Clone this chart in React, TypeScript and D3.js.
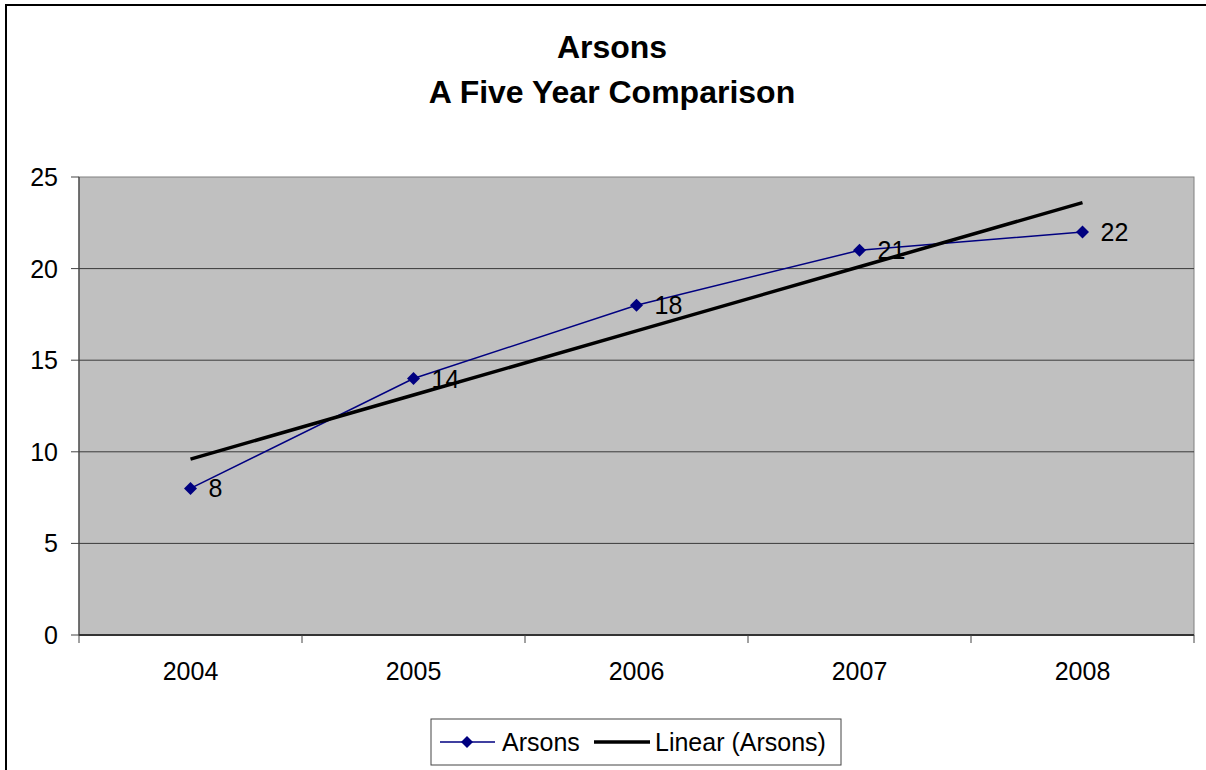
import React from "react";
import * as d3 from "d3";

const years = ["2004", "2005", "2006", "2007", "2008"];
const arsons = [8, 14, 18, 21, 22];
const yTicks = [0, 5, 10, 15, 20, 25];
const titleLines = ["Arsons", "A Five Year Comparison"];

const W = 1206, H = 770;
const left = 79, right = 1194, top = 177, bottom = 635;

export default function App() {
  const x = d3.scaleBand<string>().domain(years).range([left, right]);
  const y = d3.scaleLinear().domain([0, 25]).range([bottom, top]);
  const cx = (d: string) => (x(d) as number) + x.bandwidth() / 2;

  // linear regression trend
  const n = arsons.length;
  const xs = arsons.map((_, i) => i + 1);
  const mx = d3.mean(xs) as number;
  const my = d3.mean(arsons) as number;
  const slope = d3.sum(xs.map((xi, i) => (xi - mx) * (arsons[i] - my))) / d3.sum(xs.map((xi) => (xi - mx) ** 2));
  const icpt = my - slope * mx;
  const trend = years.map((yr, i) => [cx(yr), y(icpt + slope * (i + 1))] as [number, number]);

  const line = d3.line<number>().x((_, i) => cx(years[i])).y((d) => y(d));
  const diamond = (px: number, py: number, r: number) => `M${px},${py - r}L${px + r},${py}L${px},${py + r}L${px - r},${py}Z`;
  const font = "'Liberation Sans', Arial, sans-serif";
  const bounds = d3.range(n + 1).map((i) => left + i * x.bandwidth());

  return (
    <svg width={W} height={H} style={{ position: "absolute", left: 0, top: 0 }} fontFamily={font}>
      <rect x={0} y={0} width={W} height={H} fill="#fff" />
      <rect x={6} y={5} width={W + 10} height={H + 10} fill="none" stroke="#000" strokeWidth={2} />
      {titleLines.map((t, i) => (
        <text key={t} x={612} y={58 + i * 45} textAnchor="middle" fontSize={32} fontWeight="bold">{t}</text>
      ))}
      <rect x={left} y={top} width={right - left} height={bottom - top} fill="#c0c0c0" stroke="#808080" strokeWidth={1} />
      {yTicks.map((t) => (
        <g key={t}>
          {t > 0 && t < 25 && <line x1={left} x2={right} y1={y(t)} y2={y(t)} stroke="#3a3a3a" strokeWidth={1} />}
          <line x1={left - 8} x2={left} y1={y(t)} y2={y(t)} stroke="#444" strokeWidth={1} />
          <text x={58} y={y(t)} dy="0.36em" textAnchor="end" fontSize={25}>{t}</text>
        </g>
      ))}
      <line x1={left} x2={left} y1={top} y2={bottom} stroke="#444" strokeWidth={1.2} />
      <line x1={left} x2={right} y1={bottom} y2={bottom} stroke="#333" strokeWidth={2} />
      {bounds.map((b, i) => (
        <line key={i} x1={b} x2={b} y1={bottom} y2={bottom + 8} stroke="#444" strokeWidth={1} />
      ))}
      {years.map((yr) => (
        <text key={yr} x={cx(yr)} y={680} textAnchor="middle" fontSize={25}>{yr}</text>
      ))}
      <path d={line(arsons) as string} fill="none" stroke="#000080" strokeWidth={1.5} />
      <path d={d3.line()(trend) as string} fill="none" stroke="#000" strokeWidth={3.5} />
      {arsons.map((v, i) => (
        <g key={i}>
          <path d={diamond(cx(years[i]), y(v), 6.5)} fill="#000080" />
          <text x={cx(years[i]) + 18} y={y(v)} dy="0.36em" fontSize={25}>{v}</text>
        </g>
      ))}
      <rect x={431} y={719} width={410} height={46} fill="#fff" stroke="#444" strokeWidth={1} />
      <line x1={440} x2={495} y1={742} y2={742} stroke="#000080" strokeWidth={1.5} />
      <path d={diamond(467, 742, 6)} fill="#000080" />
      <text x={502} y={742} dy="0.36em" fontSize={25}>Arsons</text>
      <line x1={594} x2={650} y1={742} y2={742} stroke="#000" strokeWidth={3.5} />
      <text x={655} y={742} dy="0.36em" fontSize={25}>Linear (Arsons)</text>
    </svg>
  );
}
